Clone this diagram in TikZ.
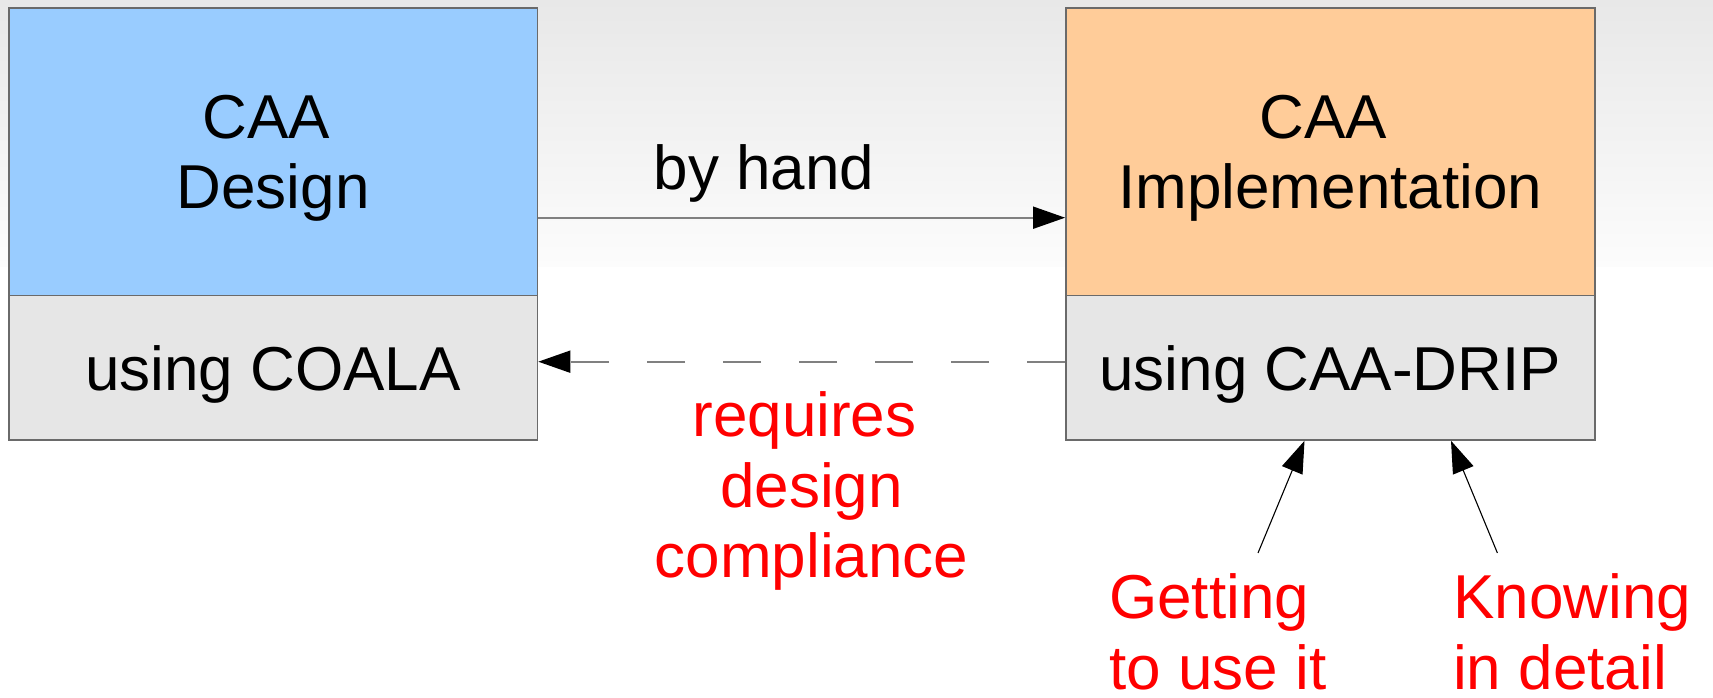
\documentclass[tikz,border=0pt]{standalone}
\usepackage{fontspec}
\setmainfont{Liberation Sans}
\usetikzlibrary{arrows.meta}
\definecolor{designblue}{HTML}{99CCFF}
\definecolor{implorange}{HTML}{FFCC99}
\definecolor{partgray}{HTML}{E6E6E6}
\definecolor{edgegray}{HTML}{6A6A6A}
\definecolor{linegray}{HTML}{808080}
\definecolor{skytop}{HTML}{E8E8E8}
\definecolor{skylow}{HTML}{FCFCFC}
\definecolor{notered}{HTML}{FF0000}
% a trailing word space, kept at the end of a centred line
\newcommand{\tailspace}{\hspace*{14pt}}
\begin{document}
\begin{tikzpicture}[x=1pt,y=1pt,
  every node/.style={font=\fontsize{62}{70.5}\selectfont, inner sep=0pt},
  part/.style={draw=edgegray, line width=1.6pt, minimum width=528.8pt,
               align=center, text depth=0pt},
  headpart/.style={part, minimum height=287.4pt},
  footpart/.style={part, fill=partgray, minimum height=144.3pt},
  tip/.style={-{Triangle[length=32pt,width=22pt,black]}},
  flow/.style={tip, draw=linegray, line width=1.8pt},
  backflow/.style={flow, dash pattern=on 38pt off 38pt},
  pointer/.style={tip, draw=black, line width=1.1pt},
  note/.style={text=notered},
]
% page and soft grey sky at the top
\useasboundingbox (0,0) rectangle (1713,698);
\fill[white] (0,0) rectangle (1713,698);
\shade[top color=skytop, bottom color=skylow] (0,431) rectangle (1713,698);

% design side
\node[headpart, fill=designblue] (design) at (273.1,546) {CAA\tailspace\\Design};
\node[footpart] (coala) at (273.1,330.15) {using COALA};

% implementation side
\node[headpart, fill=implorange] (impl) at (1330.3,546) {CAA\tailspace\\Implementation};
\node[footpart] (drip) at (1330.3,330.15) {using CAA-DRIP};

% connectors between the two sides
\coordinate (fwd) at (0,480.3);
\coordinate (back) at (0,336.3);
\draw[flow] (design.east |- fwd) -- (impl.west |- fwd);
\draw[backflow] (drip.west |- back) -- (coala.east |- back);
\node[anchor=base] (byhand) at (764,508.7) {by hand};
\node[note, align=center, anchor=south] (compliance) at (811.5,107)
  {requires\tailspace\\design\tailspace\\compliance};

% notes pointing at the method box
\node[note, align=left, anchor=south west] (getting) at (1109,7.7) {Getting\\to use it};
\node[note, align=left, anchor=south west] (knowing) at (1453,7.7) {Knowing\\in detail};
\coordinate (gfrom) at (1258,145);
\coordinate (kfrom) at (1497.4,145);
\draw[pointer] (gfrom) -- ([xshift=-25.8pt]drip.south);
\draw[pointer] (kfrom) -- ([xshift=120.7pt]drip.south);
\end{tikzpicture}
\end{document}
